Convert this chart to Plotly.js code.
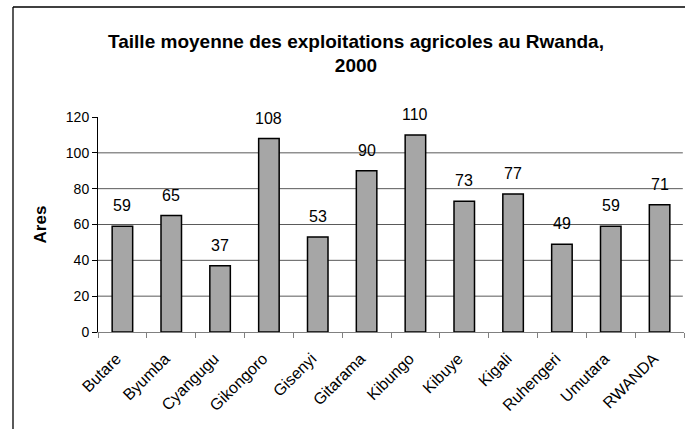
<!DOCTYPE html>
<html>
<head>
<meta charset="utf-8">
<script src="https://cdn.plot.ly/plotly-3.0.1.min.js"></script>
<style>
html,body{margin:0;padding:0;background:#fff;}
#chart{width:685px;height:429px;}
</style>
</head>
<body>
<div id="chart"></div>
<script>
const categories = ["Butare","Byumba","Cyangugu","Gikongoro","Gisenyi","Gitarama","Kibungo","Kibuye","Kigali","Ruhengeri","Umutara","RWANDA"];
const values = [59,65,37,108,53,90,110,73,77,49,59,71];
const yTicks = [0,20,40,60,80,100,120];
const titleText = "Taille moyenne des exploitations agricoles au Rwanda,<br>2000";
const yTitle = "Ares";

const font = "Arial, 'Liberation Sans', sans-serif";

const trace = {
  type: "bar",
  x: categories,
  y: values,
  marker: {color: "#a6a6a6", line: {color: "#000000", width: 1.5}},
  hoverinfo: "none"
};

const annotations = categories.map((c, i) => ({
  x: c, y: values[i], xref: "x", yref: "y",
  text: String(values[i]), showarrow: false,
  yanchor: "bottom", yshift: 10,
  font: {family: font, size: 16, color: "#000"}
}));

const layout = {
  width: 685, height: 429,
  margin: {l: 98, r: 1, t: 117, b: 97},
  paper_bgcolor: "#fff", plot_bgcolor: "#fff",
  showlegend: false,
  bargap: 0.58,
  title: {
    text: titleText,
    font: {family: font, size: 19, color: "#000", weight: "bold"},
    x: 356 / 685, xanchor: "center", xref: "container",
    y: 1 - 47.5 / 429, yanchor: "middle", yref: "container"
  },
  xaxis: {
    type: "category",
    tickson: "boundaries",
    ticks: "outside", ticklen: 5, tickcolor: "#808080", tickwidth: 1,
    showline: true, linecolor: "#808080", linewidth: 1,
    tickangle: -45,
    ticklabelstandoff: 10,
    ticklabelshift: -6,
    tickfont: {family: font, size: 16, color: "#000"},
    showgrid: false, zeroline: false
  },
  yaxis: {
    range: [0, 120],
    tickvals: yTicks,
    ticks: "outside", ticklen: 5, tickcolor: "#000", tickwidth: 1,
    showline: true, linecolor: "#000", linewidth: 1,
    tickfont: {family: font, size: 14, color: "#000"},
    showgrid: false, zeroline: false,
    title: {text: yTitle, font: {family: font, size: 17, color: "#000", weight: "bold"}, standoff: 14}
  },
  shapes: yTicks.filter(v => v > 0 && v < 120).map(v => ({
    type: "line", xref: "paper", yref: "y", x0: 0, x1: 0.998, y0: v, y1: v,
    line: {color: "#5a5a5a", width: 1}, layer: "below"
  })).concat([
    {type: "line", xref: "paper", yref: "paper", x0: (13 - 98) / 586, x1: (13 - 98) / 586, y0: (332 - 7) / 215, y1: -0.5, line: {color: "#000", width: 1.3}},
    {type: "line", xref: "paper", yref: "paper", x0: (13 - 98) / 586, x1: 1.1, y0: (332 - 7) / 215, y1: (332 - 7) / 215, line: {color: "#000", width: 1.3}}
  ]),
  annotations: annotations
};

Plotly.newPlot("chart", [trace], layout, {displayModeBar: false, staticPlot: true});
</script>
</body>
</html>
